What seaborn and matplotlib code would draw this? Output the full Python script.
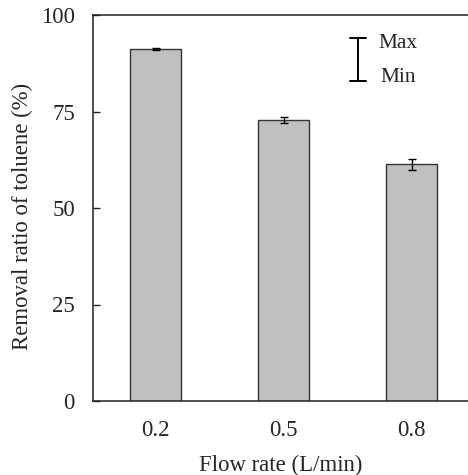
import pandas as pd
import matplotlib.pyplot as plt
import seaborn as sns

# data
flow_rate = ["0.2", "0.5", "0.8"]
removal = [91.2, 72.8, 61.3]
removal_min = [91.0, 72.1, 59.8]
removal_max = [91.4, 73.5, 62.8]

df = pd.DataFrame({"flow": flow_rate, "removal": removal})

sns.set_style("white")
plt.rcParams["font.family"] = ["Liberation Serif", "DejaVu Serif"]

fig = plt.figure(figsize=(4.68, 4.75), dpi=100)
ax = fig.add_axes([93 / 468, 1 - 401 / 475, 1 - 93 / 468, 386 / 475])

sns.barplot(data=df, x="flow", y="removal", color="#c0c0c0", width=0.4,
            edgecolor="#333333", linewidth=1.0, saturation=1, errorbar=None, ax=ax)

# min/max error bars
lower = [m - lo for m, lo in zip(removal, removal_min)]
upper = [hi - m for m, hi in zip(removal, removal_max)]
ax.errorbar(range(len(flow_rate)), removal, yerr=[lower, upper], fmt="none",
            ecolor="black", elinewidth=1.0, capsize=3.2, capthick=1.0)

ax.set_xlim(-0.49, 2.44)
ax.set_ylim(0, 100)
ax.set_yticks([0, 25, 50, 75, 100])
ax.tick_params(axis="y", direction="in", length=5, width=1, pad=13, labelsize=16.4, left=True)
ax.tick_params(axis="x", length=0, pad=14, labelsize=16.4)
for side in ["left", "bottom", "top"]:
    ax.spines[side].set_color("#222222")
    ax.spines[side].set_linewidth(1.1)
ax.spines["right"].set_visible(False)

ax.set_xlabel("Flow rate (L/min)", fontsize=16.4, labelpad=10)
ax.set_ylabel("Removal ratio of toluene (%)", fontsize=16.4, va="center")
ax.yaxis.set_label_coords(-0.189, 0.478)

# Max/Min key
tr = ax.transAxes
x0 = (358 - 93) / 375
ytop = (401 - 38) / 386
ybot = (401 - 81) / 386
hw = 8 / 375
ax.plot([x0, x0], [ybot, ytop], color="black", lw=1.4, transform=tr, clip_on=False)
ax.plot([x0 - hw, x0 + hw], [ytop, ytop], color="black", lw=1.4, transform=tr, clip_on=False)
ax.plot([x0 - hw, x0 + hw], [ybot, ybot], color="black", lw=1.4, transform=tr, clip_on=False)
ax.text((378 - 93) / 375, (401 - 43) / 386, "Max", transform=tr, fontsize=15.4, va="center")
ax.text((380 - 93) / 375, (401 - 78) / 386, "Min", transform=tr, fontsize=15.4, va="center")

fig.savefig("out.png", dpi=100)
